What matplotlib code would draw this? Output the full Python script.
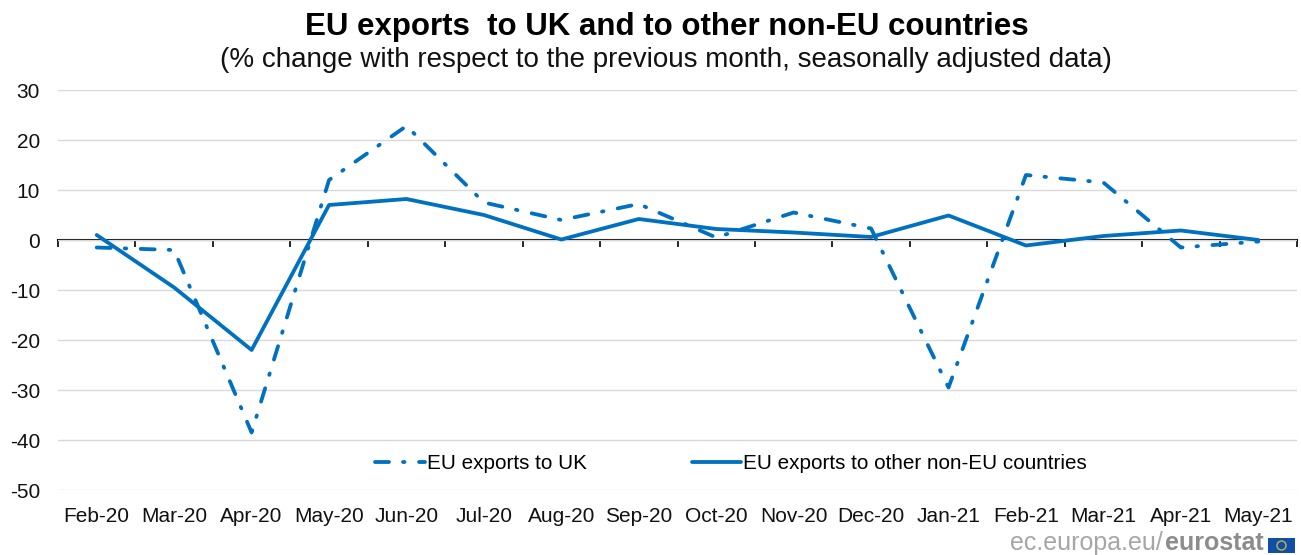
import matplotlib
matplotlib.use("Agg")
import matplotlib.pyplot as plt
from matplotlib.patches import Rectangle, Circle

plt.rcParams['font.family'] = ['Liberation Sans', 'DejaVu Sans']
plt.rcParams['lines.scale_dashes'] = False
plt.rcParams['axes.unicode_minus'] = False

months = ["Feb-20", "Mar-20", "Apr-20", "May-20", "Jun-20", "Jul-20", "Aug-20", "Sep-20",
          "Oct-20", "Nov-20", "Dec-20", "Jan-21", "Feb-21", "Mar-21", "Apr-21", "May-21"]
exports_uk = [-1.5, -2.0, -38.5, 12.0, 22.8, 7.5, 4.0, 7.2,
              0.5, 5.5, 2.3, -29.5, 13.0, 11.5, -1.5, -0.3]
exports_other = [1.0, -9.5, -22.0, 7.0, 8.2, 5.0, 0.1, 4.2,
                 2.2, 1.5, 0.6, 4.9, -1.1, 0.8, 1.9, 0.0]
yticks = [30, 20, 10, 0, -10, -20, -30, -40, -50]

W, H = 1301, 555
blue = "#0070C0"
px = 0.72  # one pixel in points at dpi 100

fig = plt.figure(figsize=(W / 100, H / 100), dpi=100)
ax = fig.add_axes([58 / W, (H - 490) / H, (1297 - 58) / W, 400 / H])

x = list(range(len(months)))
ax.plot(x, exports_uk, color=blue, lw=3.8 * px, label="EU exports to UK",
        linestyle=(0, (14 * px, 14 * px, 1.5 * px, 14.5 * px)),
        dash_capstyle="round", zorder=3)
ax.plot(x, exports_other, color=blue, lw=3.8 * px, label="EU exports to other non-EU countries",
        solid_capstyle="round", zorder=4)

ax.set_xlim(-0.5, len(months) - 0.5)
ax.set_ylim(-50, 30)
ax.set_yticks(yticks)
ax.set_xticks(x, months)
ax.tick_params(axis="both", length=0, labelsize=15, labelcolor="#111111")
ax.tick_params(axis="x", pad=12)
ax.tick_params(axis="y", pad=13)
ax.grid(axis="y", color="#D9D9D9", lw=1.0)
ax.set_axisbelow(True)
for s in ax.spines.values():
    s.set_visible(False)

# zero line with the tick marks between months
zero = ax.secondary_xaxis(50 / 80)
zero.set_xticks([i - 0.5 for i in range(len(months) + 1)])
zero.spines["top"].set_visible(False)
zero.spines["bottom"].set_visible(True)
zero.spines["bottom"].set_color("black")
zero.spines["bottom"].set_linewidth(1.5)
zero.xaxis.set_ticks_position("bottom")
zero.tick_params(axis="x", direction="out", length=5, width=1.2, color="black",
                 labelbottom=False)

ax.legend(loc="lower left", bbox_to_anchor=(317 / 1239, 17 / 400), ncols=2, frameon=False,
          fontsize=14.85, handlelength=2.4, handletextpad=0.1, columnspacing=5.1,
          borderpad=0, borderaxespad=0)

fig.text(667 / W, 1 - 27 / H, "EU exports  to UK and to other non-EU countries", ha="center", va="center",
         fontsize=22.5, fontweight="bold", color="black")
fig.text(666 / W, 1 - 60 / H, "(% change with respect to the previous month, seasonally adjusted data)",
         ha="center", va="center", fontsize=20, color="#111111")

# footer
fig.text(1163 / W, 1 - 550 / H, "ec.europa.eu/", ha="right", va="baseline", fontsize=18, color="#A6A6A6")
fig.text(1165 / W, 1 - 550 / H, "eurostat", ha="left", va="baseline", fontsize=18,
         fontweight="bold", color="#8C8C8C")
fig.add_artist(Rectangle((1268 / W, 1 - 553 / H), 27 / W, 15 / H, transform=fig.transFigure,
                         facecolor="#0F4FA8", edgecolor="none"))
fig.add_artist(Circle((1281.5, H - 545.5), 4.5, transform=None, facecolor="none",
                      edgecolor="#C9B53A", lw=1.0))

fig.savefig("out.png", dpi=100)
